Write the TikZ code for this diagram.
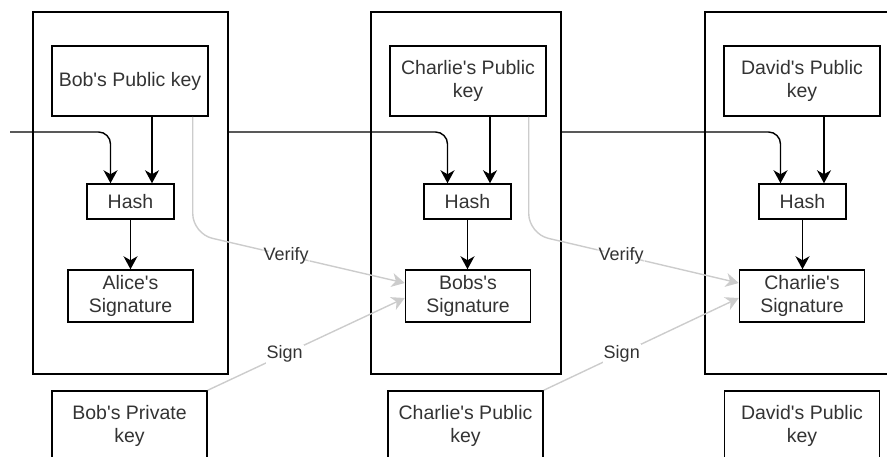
\documentclass[tikz,border=0pt]{standalone}
\usepackage{fontspec}
% plain family: keeps straight apostrophes (no TeX ligature mapping)
\newfontfamily\diagfont{Liberation Sans}
\usetikzlibrary{arrows.meta}
\begin{document}
\begin{tikzpicture}[x=1pt,y=-1pt,
  frame/.style={draw=black,line width=1.5pt,inner sep=0pt,minimum width=#1,minimum height=362pt},
  box/.style={draw=black,line width=1.5pt,inner sep=0pt,align=center,text=black!80,
              font=\diagfont\fontsize{19.5}{23}\selectfont},
  keybox/.style={box,minimum width=156pt,minimum height=70pt},
  hashbox/.style={box,minimum width=87pt,minimum height=35pt},
  sigbox/.style={box,minimum width=125pt,minimum height=52pt},
  tip/.style={-{Stealth[length=13pt,width=14pt,inset=4pt]}},
  link/.style={draw=black,line width=1.4pt,tip},
  rail/.style={draw=black,line width=1.4pt,tip,rounded corners=12pt},
  ghost/.style={draw=black!20,line width=1.4pt,tip},
  lbl/.style={fill=white,text=black!80,inner sep=1pt,font=\diagfont\fontsize{18}{21}\selectfont}
]
\useasboundingbox (0,0) rectangle (887,456);
\clip (0,0) rectangle (887,456);

% block frames
\node[frame=195pt] (f1) at (130.5,193) {};
\node[frame=190pt] (f2) at (466,193) {};
\node[frame=190pt] (f3) at (800,193) {};

% public keys
\node[keybox] (k1) at (130,81) {Bob's Public key};
\node[keybox] (k2) at (468,81) {Charlie's Public\\key};
\node[keybox] (k3) at (802,81) {David's Public\\key};

% hashes
\node[hashbox] (h1) at (130.5,201.5) {Hash};
\node[hashbox] (h2) at (467.5,201.5) {Hash};
\node[hashbox] (h3) at (802.5,201.5) {Hash};

% signatures
\node[sigbox] (s1) at (130.5,296) {Alice's\\Signature};
\node[sigbox] (s2) at (468,296) {Bobs's\\Signature};
\node[sigbox] (s3) at (802,296) {Charlie's\\Signature};

% signing keys
\node[keybox,minimum width=155pt] (p1) at (129.5,426) {Bob's Private\\key};
\node[keybox,minimum width=155pt] (p2) at (465.5,426) {Charlie's Public\\key};
\node[keybox,minimum width=155pt] (p3) at (802,426) {David's Public\\key};

% chain rail
\coordinate (in) at (10,132);
\draw[rail] (in) -- ([xshift=-20pt]h1.north |- in) -- ([xshift=-20pt]h1.north);
\draw[rail] (f1.east |- in) -- ([xshift=-20pt]h2.north |- in) -- ([xshift=-20pt]h2.north);
\draw[rail] (f2.east |- in) -- ([xshift=-22pt]h3.north |- in) -- ([xshift=-22pt]h3.north);

% key -> hash -> signature
\foreach \i in {1,2,3} {
  \draw[link] ([xshift=22pt]k\i.south) -- ([xshift=22pt]k\i.south |- h\i.north);
  \draw[link] (h\i.south) -- (h\i.south |- s\i.north);
}

% verify
\draw[ghost,rounded corners=20pt] ([xshift=-16pt]k1.south east) -- ++(0,117)
  -- node[lbl,pos=0.44] {Verify} ([yshift=13pt]s2.west);
\draw[ghost,rounded corners=20pt] ([xshift=-18pt]k2.south east) -- ++(0,117)
  -- node[lbl,pos=0.44] {Verify} ([yshift=13pt]s3.west);

% sign
\draw[ghost] (p1.north east) -- node[lbl,pos=0.39] {Sign} ([yshift=-2pt]s2.west);
\draw[ghost] (p2.north east) -- node[lbl,pos=0.40] {Sign} ([yshift=-2pt]s3.west);
\end{tikzpicture}
\end{document}
